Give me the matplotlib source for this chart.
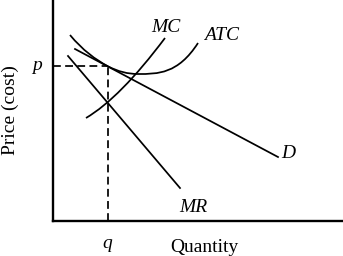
import matplotlib
matplotlib.use("Agg")
from matplotlib import pyplot as plt
from matplotlib.path import Path
from matplotlib.patches import PathPatch

plt.rcParams['font.family'] = ['Liberation Serif', 'DejaVu Serif']

# 需求曲线 D 和边际收益 MR（直线，两端点）
d_x = [22, 225]
d_y = [172, 64]
mr_x = [15, 127]
mr_y = [165, 33]

# 边际成本 MC（二次贝塞尔：起点、控制点、终点）
mc_pts = [(33, 103), (67, 123), (112, 183)]

# 平均总成本 ATC（三段三次贝塞尔）
atc_pts = [(17, 186), (29.7, 170.8), (42.3, 161.5), (55, 154.7),
           (65, 149.4), (75, 147), (85, 147),
           (105, 147), (125, 147), (145, 178)]

# 均衡点 p, q
q_val = 55
p_val = 154.7

fig = plt.figure(figsize=(3.43, 2.56), dpi=100)
ax = fig.add_axes([53/343, 35/256, 289/343, 221/256])
ax.set_xlim(0, 289)
ax.set_ylim(0, 221)

lw = 1.25
ax.plot(d_x, d_y, color='black', lw=lw)
ax.plot(mr_x, mr_y, color='black', lw=lw)

mc_path = Path(mc_pts, [Path.MOVETO, Path.CURVE3, Path.CURVE3])
ax.add_patch(PathPatch(mc_path, fc='none', ec='black', lw=lw))

atc_codes = [Path.MOVETO] + [Path.CURVE4] * 9
ax.add_patch(PathPatch(Path(atc_pts, atc_codes), fc='none', ec='black', lw=lw))

# 虚线
ax.plot([0, q_val], [p_val, p_val], color='black', lw=1.25, ls=(0, (4.5, 2.5)))
ax.plot([q_val, q_val], [0, p_val], color='black', lw=1.25, ls=(0, (4.5, 2.5)))

# 标签
fs = 14
ax.text(113, 193, 'MC', style='italic', fontsize=fs, ha='center', va='center')
ax.text(169, 186, 'ATC', style='italic', fontsize=fs, ha='center', va='center')
ax.text(235, 67, 'D', style='italic', fontsize=fs, ha='center', va='center')
ax.text(140, 14, 'MR', style='italic', fontsize=fs, ha='center', va='center')
ax.text(-16, 156, 'p', style='italic', fontsize=fs, ha='center', va='center', clip_on=False)
ax.text(54, -23, 'q', style='italic', fontsize=fs, ha='center', va='center', clip_on=False)
ax.text(151, -26, 'Quantity', fontsize=fs, ha='center', va='center', clip_on=False)
ax.text(-43, 111, 'Price (cost)', fontsize=fs, ha='center', va='center', rotation=90, clip_on=False)

for s in ['top', 'right']:
    ax.spines[s].set_visible(False)
for s in ['left', 'bottom']:
    ax.spines[s].set_linewidth(1.7)
ax.set_xticks([])
ax.set_yticks([])

fig.savefig('out.png', dpi=100)
